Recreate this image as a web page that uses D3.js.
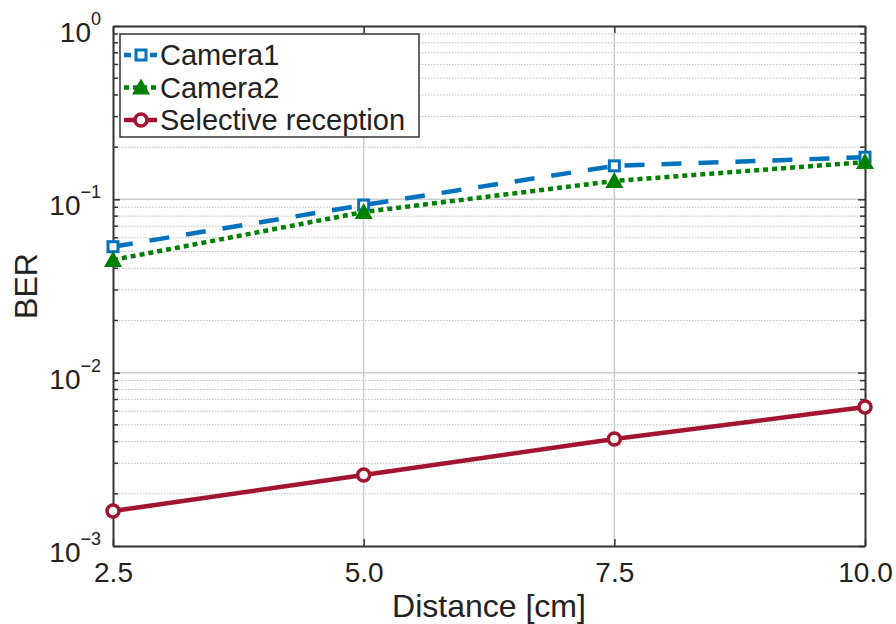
<!DOCTYPE html>
<html><head><meta charset="utf-8">
<script src="https://cdn.jsdelivr.net/npm/d3@7"></script>
<style>body{margin:0;background:#fff}text{font-family:"Liberation Sans",Arial,sans-serif;fill:#222}</style>
</head><body><svg id="c" width="896" height="624"></svg>
<script>
const distances = [2.5, 5.0, 7.5, 10.0];
const camera1 = [0.0533, 0.0927, 0.156, 0.175];
const camera2 = [0.0447, 0.0845, 0.1276, 0.164];
const selective = [0.00159, 0.00257, 0.00414, 0.00634];
const xTickLabels = ["2.5", "5.0", "7.5", "10.0"];
const yDecades = [-3, -2, -1, 0];
const seriesNames = ["Camera1", "Camera2", "Selective reception"];

const svg = d3.select("#c");
const L = 113, R = 865, T = 26, B = 546;
const x = d3.scaleLinear().domain([2.5, 10]).range([L, R]);
const y = d3.scaleLog().domain([1e-3, 1]).range([B, T]);

// grid
const minors = [];
yDecades.slice(0, 3).forEach(d => { for (let k = 2; k <= 9; k++) minors.push(k * Math.pow(10, d)); });
const g = svg.append("g");
g.selectAll(".mn").data(minors).join("line")
  .attr("x1", L).attr("x2", R).attr("y1", d => y(d)).attr("y2", d => y(d))
  .attr("stroke", "#bbb").attr("stroke-width", 1).attr("stroke-dasharray", "1.5,1.5");
g.selectAll(".mj").data(yDecades.slice(1, 3).map(d => Math.pow(10, d))).join("line")
  .attr("x1", L).attr("x2", R).attr("y1", d => y(d)).attr("y2", d => y(d))
  .attr("stroke", "#ccc").attr("stroke-width", 1.5);
g.selectAll(".vx").data(distances.slice(1, 3)).join("line")
  .attr("x1", d => x(d)).attr("x2", d => x(d)).attr("y1", T).attr("y2", B)
  .attr("stroke", "#ccc").attr("stroke-width", 1.5);

// axes
const yTicks = yDecades.map(d => Math.pow(10, d));
const ax = svg.append("g").attr("transform", `translate(0,${B})`)
  .call(d3.axisBottom(x).tickValues(distances).tickFormat((d, i) => xTickLabels[i]).tickSizeInner(-7).tickSizeOuter(0).tickPadding(16));
ax.selectAll("text").attr("font-size", 28);
const axT = svg.append("g").attr("transform", `translate(0,${T})`)
  .call(d3.axisTop(x).tickValues(distances).tickFormat("").tickSizeInner(-7).tickSizeOuter(0));
const ay = svg.append("g").attr("transform", `translate(${L},0)`)
  .call(d3.axisLeft(y).tickValues(yTicks).tickFormat("").tickSizeInner(-7).tickSizeOuter(0));
const ayR = svg.append("g").attr("transform", `translate(${R},0)`)
  .call(d3.axisRight(y).tickValues(yTicks).tickFormat("").tickSizeInner(-7).tickSizeOuter(0));
[ay, ayR].forEach((a, i) => a.selectAll(".mt").data(minors).join("line")
  .attr("x1", 0).attr("x2", i === 0 ? 5 : -5).attr("y1", d => y(d)).attr("y2", d => y(d))
  .attr("stroke", "#333").attr("stroke-width", 1.5));
[ax, axT, ay, ayR].forEach(a => { a.selectAll("path,line").attr("stroke", "#333").attr("stroke-width", 1.5); a.select(".domain").attr("stroke-width", 2); });

// y tick labels 10^n
const yl = svg.append("g");
yDecades.forEach(d => {
  const t = yl.append("text").attr("x", L - 12).attr("y", y(Math.pow(10, d)) + 16).attr("text-anchor", "end").attr("font-size", 28);
  t.append("tspan").text("10");
  t.append("tspan").attr("dy", -17).attr("font-size", 18).text(String(d).replace("-", "\u2212"));
});

// axis labels
svg.append("text").attr("x", 489).attr("y", 617).attr("text-anchor", "middle").attr("font-size", 32).text("Distance [cm]");
svg.append("text").attr("transform", `translate(37,${(T + B) / 2}) rotate(-90)`).attr("text-anchor", "middle").attr("font-size", 32).text("BER");

// series
const colors = ["#0072BD", "#008000", "#A2142F"];
const dashes = ["20,17", "5,4", null];
const data = [camera1, camera2, selective];
const line = d3.line().x((d, i) => x(distances[i])).y(d => y(d));
const plot = svg.append("g");
data.forEach((vals, s) => {
  plot.append("path").datum(vals).attr("d", line).attr("fill", "none")
    .attr("stroke", colors[s]).attr("stroke-width", 4.5).attr("stroke-dasharray", dashes[s]);
});
function marker(sel, s, cx, cy) {
  if (s === 0) sel.append("rect").attr("x", cx - 5).attr("y", cy - 5).attr("width", 10).attr("height", 10)
    .attr("fill", "#fff").attr("stroke", colors[0]).attr("stroke-width", 3);
  else if (s === 1) sel.append("path").attr("d", `M${cx},${cy - 9}L${cx + 9},${cy + 7}L${cx - 9},${cy + 7}Z`).attr("fill", colors[1]);
  else sel.append("circle").attr("cx", cx).attr("cy", cy).attr("r", 6).attr("fill", "#fff").attr("stroke", colors[2]).attr("stroke-width", 3.5);
}
data.forEach((vals, s) => vals.forEach((v, i) => marker(plot, s, x(distances[i]), y(v))));

// legend
const lg = svg.append("g");
lg.append("rect").attr("x", 120).attr("y", 34).attr("width", 299).attr("height", 103)
  .attr("fill", "#fff").attr("stroke", "#333").attr("stroke-width", 1.5);
seriesNames.forEach((n, s) => {
  const cy = 55 + s * 32.5;
  lg.append("line").attr("x1", 124).attr("x2", 157).attr("y1", cy).attr("y2", cy)
    .attr("stroke", colors[s]).attr("stroke-width", 4.5).attr("stroke-dasharray", s === 0 ? "7,6" : s === 1 ? "5,4" : null);
  marker(lg, s, 141, cy);
  lg.append("text").attr("x", 160).attr("y", cy + 10).attr("font-size", 29).text(n);
});
</script></body></html>
